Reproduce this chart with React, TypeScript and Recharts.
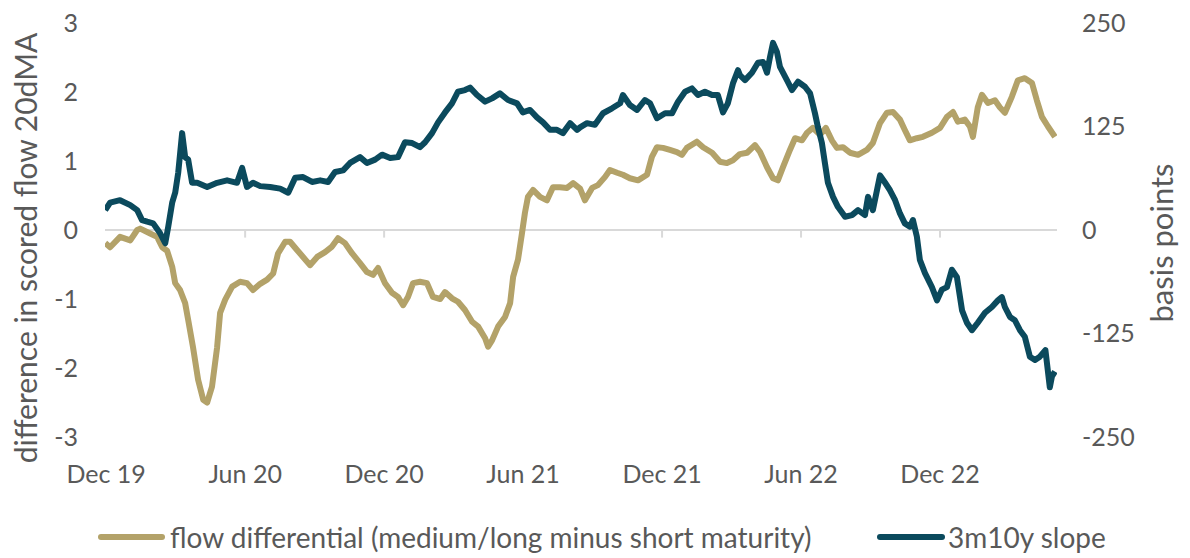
import { LineChart, Line, XAxis, YAxis, ReferenceLine, Label } from 'recharts'

// months after the Dec 19 tick
const flowT = [
  -0.04, 0.17, 0.6, 1.04, 1.34, 1.47, 1.9, 2.2, 2.42, 2.63, 2.85, 2.98, 3.19, 3.41, 3.54, 3.75, 3.97, 4.19, 4.36, 4.57,
  4.79, 4.92, 5.14, 5.44, 5.78, 6.08, 6.34, 6.65, 6.95, 7.21, 7.42, 7.73, 7.94, 8.24, 8.5, 8.8, 9.11, 9.45, 9.75, 10.01,
  10.31, 10.62, 10.96, 11.26, 11.52, 11.74, 12.04, 12.34, 12.6, 12.82, 13.03, 13.25, 13.55, 13.85, 14.11, 14.42, 14.63, 14.93, 15.19, 15.49,
  15.8, 16.06, 16.36, 16.49, 16.66, 16.92, 17.22, 17.44, 17.57, 17.78, 17.95, 18.08, 18.21, 18.43, 18.73, 19.03, 19.29, 19.59, 19.9, 20.16,
  20.46, 20.67, 20.98, 21.23, 21.54, 21.75, 22.06, 22.31, 22.61, 22.96, 23.35, 23.56, 23.78, 24.04, 24.34, 24.64, 24.86, 25.07, 25.5, 25.77,
  26.16, 26.5, 26.8, 27.06, 27.36, 27.67, 28.01, 28.23, 28.53, 28.79, 29.0, 29.22, 29.52, 29.74, 30.04, 30.26, 30.51, 30.82, 31.07, 31.33,
  31.55, 31.81, 32.11, 32.46, 32.84, 33.1, 33.41, 33.71, 33.97, 34.27, 34.48, 34.7, 35.0, 35.26, 35.65, 36.0, 36.3, 36.56, 36.77, 37.07,
  37.29, 37.42, 37.63, 37.81, 38.07, 38.37, 38.58, 38.8, 39.1, 39.36, 39.66, 39.97, 40.18, 40.4, 40.66, 40.96,
]
const flowV = [
  -0.19, -0.25, -0.1, -0.15, 0, 0.02, -0.05, -0.1, -0.25, -0.3, -0.53, -0.77, -0.87, -1.06, -1.3, -1.7, -2.17, -2.46, -2.5, -2.27,
  -1.7, -1.2, -1.01, -0.82, -0.75, -0.77, -0.87, -0.78, -0.72, -0.63, -0.34, -0.17, -0.17, -0.29, -0.39, -0.51, -0.39, -0.32, -0.24, -0.12,
  -0.19, -0.34, -0.48, -0.61, -0.65, -0.55, -0.77, -0.91, -0.97, -1.09, -0.97, -0.77, -0.75, -0.77, -0.97, -1.0, -0.9, -0.99, -1.04, -1.16,
  -1.33, -1.4, -1.57, -1.69, -1.6, -1.4, -1.26, -1.06, -0.68, -0.43, -0.05, 0.25, 0.48, 0.58, 0.48, 0.43, 0.62, 0.62, 0.61, 0.68,
  0.6, 0.43, 0.61, 0.65, 0.77, 0.87, 0.83, 0.8, 0.75, 0.72, 0.8, 1.06, 1.2, 1.19, 1.16, 1.13, 1.09, 1.19, 1.28, 1.2,
  1.12, 0.99, 0.97, 1.01, 1.1, 1.12, 1.23, 1.13, 0.91, 0.75, 0.72, 0.91, 1.16, 1.33, 1.3, 1.41, 1.48, 1.38, 1.48, 1.3,
  1.19, 1.2, 1.12, 1.09, 1.16, 1.26, 1.55, 1.7, 1.71, 1.6, 1.45, 1.3, 1.33, 1.35, 1.41, 1.48, 1.64, 1.71, 1.57, 1.6,
  1.5, 1.35, 1.78, 1.96, 1.84, 1.88, 1.78, 1.7, 1.93, 2.17, 2.2, 2.13, 1.88, 1.64, 1.5, 1.35,
]

const slopeT = [
  -0.04, 0.17, 0.6, 1.04, 1.34, 1.55, 1.77, 2.03, 2.33, 2.55, 2.68, 2.85, 2.98, 3.11, 3.28, 3.41, 3.54, 3.71, 3.93, 4.36,
  4.79, 5.22, 5.65, 5.87, 6.08, 6.34, 6.65, 7.08, 7.51, 7.86, 8.16, 8.5, 8.89, 9.24, 9.58, 9.88, 10.23, 10.53, 10.96, 11.26,
  11.61, 11.91, 12.26, 12.6, 12.9, 13.21, 13.55, 13.77, 14.07, 14.33, 14.63, 14.93, 15.19, 15.49, 15.71, 16.01, 16.36, 16.66, 17.0, 17.35,
  17.74, 17.99, 18.3, 18.6, 18.86, 19.16, 19.46, 19.72, 20.03, 20.33, 20.46, 20.76, 21.1, 21.45, 21.84, 22.19, 22.31, 22.61, 22.92, 23.26,
  23.48, 23.78, 24.13, 24.43, 24.69, 24.99, 25.29, 25.55, 25.85, 26.16, 26.41, 26.63, 26.84, 27.06, 27.28, 27.36, 27.58, 27.88, 28.14, 28.36,
  28.53, 28.66, 28.79, 28.96, 29.09, 29.39, 29.61, 29.87, 30.17, 30.39, 30.6, 30.73, 30.9, 31.03, 31.16, 31.38, 31.59, 31.9, 32.2, 32.46,
  32.76, 32.89, 33.1, 33.41, 33.63, 33.84, 34.06, 34.27, 34.48, 34.7, 34.83, 35.0, 35.13, 35.35, 35.65, 35.87, 36.08, 36.3, 36.51, 36.73,
  36.95, 37.16, 37.38, 37.63, 37.94, 38.24, 38.5, 38.67, 38.8, 39.02, 39.23, 39.45, 39.66, 39.88, 40.1, 40.31, 40.55, 40.74, 40.83, 40.96,
]
const slopeV = [
  24, 33, 36, 30, 24, 12, 10, 8, -4, -16, 4, 33, 45, 69, 117, 88, 85, 57, 57, 52,
  57, 60, 57, 75, 52, 57, 53, 52, 50, 45, 63, 64, 58, 60, 58, 70, 72, 81, 88, 81,
  85, 91, 87, 88, 106, 105, 100, 106, 117, 130, 142, 153, 167, 169, 172, 163, 155, 159, 165, 157,
  153, 142, 145, 136, 130, 121, 121, 117, 129, 121, 124, 129, 127, 141, 147, 153, 163, 151, 145, 157,
  153, 135, 141, 141, 155, 167, 171, 163, 167, 163, 163, 142, 153, 177, 193, 187, 181, 190, 202, 203,
  190, 209, 226, 215, 197, 181, 169, 179, 173, 165, 141, 124, 105, 81, 57, 40, 28, 16, 18, 24,
  18, 40, 24, 66, 57, 48, 36, 20, 8, 4, 12, -8, -36, -52, -69, -85, -72, -69, -48, -57,
  -97, -112, -121, -112, -100, -93, -85, -81, -93, -105, -109, -121, -129, -153, -157, -153, -145, -190, -177, -171,
]

const xTicks = [0, 6, 12, 18, 24, 30, 36]
const xLabels = ['Dec 19', 'Jun 20', 'Dec 20', 'Jun 21', 'Dec 21', 'Jun 22', 'Dec 22']
const leftTicks = [-3, -2, -1, 0, 1, 2, 3]
const rightTicks = [-250, -125, 0, 125, 250]

const GOLD = '#b3a269'
const NAVY = '#0b4a5d'
const TEXT = '#595959'
const FONT = 'Lato, "Open Sans", sans-serif'

const flowData = flowT.map((t, i) => ({ t, v: flowV[i] }))
const slopeData = slopeT.map((t, i) => ({ t, v: slopeV[i] }))

const leftTitle = (props: any) => {
  const vb = props.viewBox
  const cy = vb.y + vb.height / 2 + 18
  return (
    <text x={37} y={cy} transform={`rotate(-90 37 ${cy})`} textAnchor="middle" fill={TEXT} fontSize={30} fontFamily={FONT}>
      difference in scored flow 20dMA
    </text>
  )
}

const rightTitle = (props: any) => {
  const vb = props.viewBox
  const cy = vb.y + vb.height / 2 + 13
  return (
    <text x={1173} y={cy} transform={`rotate(-90 1173 ${cy})`} textAnchor="middle" fill={TEXT} fontSize={31} fontFamily={FONT}>
      basis points
    </text>
  )
}

export default function App() {
  return (
    <div style={{ position: 'absolute', left: 0, top: 0, width: 1190, height: 558, background: '#fff', fontFamily: FONT }}>
      <LineChart width={1190} height={558} margin={{ top: 23, right: 0, bottom: 0, left: 0 }}>
        <XAxis
          type="number"
          dataKey="t"
          domain={[-0.05, 41.05]}
          ticks={xTicks}
          tickFormatter={(v: number) => xLabels[xTicks.indexOf(v)] ?? ''}
          axisLine={false}
          tickLine={false}
          tickSize={0}
          tickMargin={28}
          height={121}
          tick={{ fill: TEXT, fontSize: 25 }}
          allowDataOverflow
        />
        <YAxis
          yAxisId="left"
          domain={[-3, 3]}
          ticks={leftTicks}
          axisLine={false}
          tickLine={false}
          tickSize={0}
          tickMargin={27}
          width={105}
          tick={{ fill: TEXT, fontSize: 25 }}
        >
          <Label content={leftTitle} />
        </YAxis>
        <YAxis
          yAxisId="right"
          orientation="right"
          domain={[-250, 250]}
          ticks={rightTicks}
          axisLine={false}
          tickLine={false}
          tickSize={0}
          tickMargin={25}
          width={133}
          tick={{ fill: TEXT, fontSize: 25 }}
        >
          <Label content={rightTitle} />
        </YAxis>
        <ReferenceLine yAxisId="left" y={0} stroke="#d9d9d9" strokeWidth={2} />
        {xTicks.slice(1).map(t => (
          <ReferenceLine
            key={t}
            yAxisId="left"
            segment={[{ x: t, y: 0 }, { x: t, y: -0.11 }]}
            stroke="#d9d9d9"
            strokeWidth={2}
          />
        ))}
        <Line
          yAxisId="left"
          data={flowData}
          dataKey="v"
          type="linear"
          stroke={GOLD}
          strokeWidth={6}
          dot={false}
          strokeLinejoin="round"
          isAnimationActive={false}
        />
        <Line
          yAxisId="right"
          data={slopeData}
          dataKey="v"
          type="linear"
          stroke={NAVY}
          strokeWidth={6}
          dot={false}
          strokeLinejoin="round"
          isAnimationActive={false}
        />
      </LineChart>
      <div style={{ position: 'absolute', left: 98, top: 520, height: 34, display: 'flex', alignItems: 'center', color: TEXT, fontSize: 28, whiteSpace: 'nowrap' }}>
        <span style={{ display: 'inline-block', width: 67, height: 6, borderRadius: 3, background: GOLD, marginRight: 5 }} />
        flow differential (medium/long minus short maturity)
      </div>
      <div style={{ position: 'absolute', left: 877, top: 520, height: 34, display: 'flex', alignItems: 'center', color: TEXT, fontSize: 28, whiteSpace: 'nowrap' }}>
        <span style={{ display: 'inline-block', width: 68, height: 6, borderRadius: 3, background: NAVY, marginRight: 3 }} />
        3m10y slope
      </div>
    </div>
  )
}
